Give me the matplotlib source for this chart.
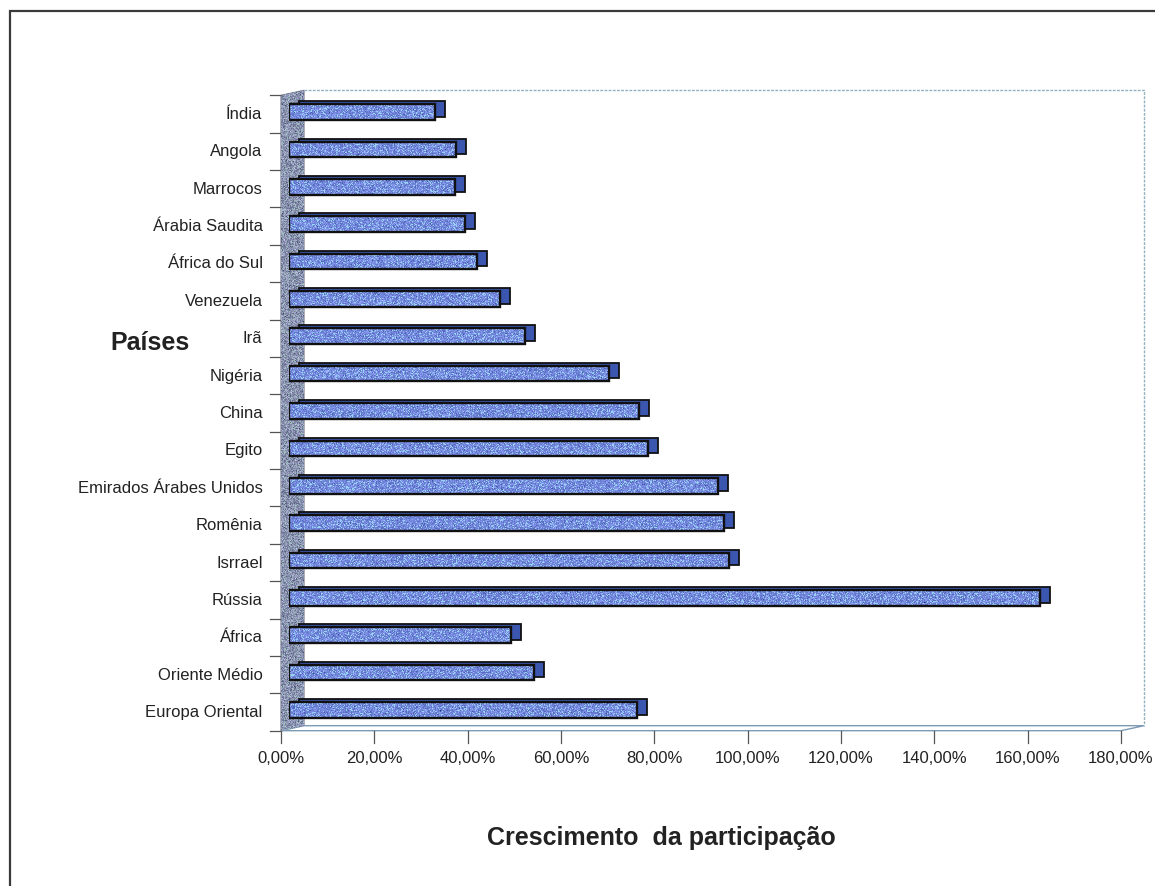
import numpy as np
import matplotlib
matplotlib.use("Agg")
import matplotlib.pyplot as plt
from matplotlib.patches import Rectangle, Polygon, PathPatch
from matplotlib.path import Path
from matplotlib.transforms import ScaledTranslation

plt.rcParams['font.family'] = ['Liberation Sans', 'DejaVu Sans']

# Crescimento da participação por país (fração, 1.0 = 100%)
paises = ["Índia", "Angola", "Marrocos", "Árabia Saudita", "África do Sul",
          "Venezuela", "Irã", "Nigéria", "China", "Egito",
          "Emirados Árabes Unidos", "Romênia", "Isrrael", "Rússia",
          "África", "Oriente Médio", "Europa Oriental"]
crescimento = [0.313, 0.358, 0.356, 0.377, 0.403,
               0.452, 0.506, 0.686, 0.750, 0.770,
               0.920, 0.932, 0.943, 1.610,
               0.476, 0.525, 0.746]
ticks_x = [0.0, 0.2, 0.4, 0.6, 0.8, 1.0, 1.2, 1.4, 1.6, 1.8]

W, H, DPI = 1155, 887, 100
fig = plt.figure(figsize=(W / DPI, H / DPI), dpi=DPI)

# plot area of the bar plane, in pixels
AX_L, AX_R, AX_T, AX_B = 289, 1129, 94.3, 729.7
AXW, AXH = AX_R - AX_L, AX_B - AX_T
ax = fig.add_axes([AX_L / W, 1 - AX_B / H, AXW / W, AXH / H])
ax.set_xlim(0, 1.8)
ax.set_ylim(-0.5, len(paises) - 0.5)
for s in ax.spines.values():
    s.set_visible(False)
ax.set_xticks([])

# pseudo-3D planes: front edge and back wall, offsets in pixels
FX, FY = -8 / AXW, -2 / AXH
BX, BY = 15 / AXW, 3 / AXH

rng = np.random.default_rng(3)


def grain(h, w, base, amp, speck, frac):
    img = base + rng.normal(0, 1, (h, w, 1)) * amp
    mask = rng.random((h, w)) < frac
    img[mask] = speck
    return np.clip(img, 0, 1)


# left wall
wall_pts = [(FX, FY), (FX, 1 + FY), (BX, 1 + BY), (BX, BY)]
wall = Polygon(wall_pts, closed=True, transform=ax.transAxes, fc='#8a90a8',
               ec='#6f7488', lw=0.8, clip_on=False, zorder=1)
ax.add_patch(wall)
wimg = ax.imshow(grain(640, 24, np.array([0.53, 0.56, 0.68]), 0.09,
                       np.array([0.62, 0.74, 0.74]), 0.12),
                 extent=[FX, BX, FY, 1 + BY], transform=ax.transAxes,
                 aspect='auto', interpolation='nearest', zorder=1.2)
wimg.set_clip_path(wall)
wimg.set_clip_box(fig.bbox)

# floor slab and back plane outline
floor = Polygon([(FX, FY), (1 + FX, FY), (1 + BX, BY), (BX, BY)], closed=True,
                transform=ax.transAxes, fc='white', ec='#7e9bb4', lw=1.0,
                clip_on=False, zorder=1)
ax.add_patch(floor)
ax.plot([BX, 1 + BX, 1 + BX], [1 + BY, 1 + BY, BY], transform=ax.transAxes,
        color='#8fb0bf', lw=1.0, ls=(0, (2, 1)), clip_on=False, zorder=1)

# category boundary ticks on the left
for k in range(len(paises) + 1):
    yb = (k / len(paises))
    ax.plot([FX - 11 / AXW, FX], [yb + FY, yb + FY], transform=ax.transAxes,
            color='#555555', lw=0.9, clip_on=False, zorder=1)

# value ticks and labels along the floor front edge
for v in ticks_x:
    xa = v / 1.8 + FX
    ax.plot([xa, xa], [FY, FY - 12 / AXH], transform=ax.transAxes,
            color='#555555', lw=0.9, clip_on=False, zorder=1)
    ax.text(xa, FY - 19 / AXH, f"{v * 100:.2f}%".replace('.', ','),
            transform=ax.transAxes, ha='center', va='top', fontsize=12,
            color='#222222')

# bars: dark back face shifted in depth, textured front face on top
ypos = np.arange(len(paises))[::-1]
bh = 0.42
depth = ScaledTranslation(10 / DPI, 3 / DPI, fig.dpi_scale_trans)
ax.barh(ypos, crescimento, height=bh, color='#3b56ae', edgecolor='#111111',
        lw=1.3, transform=ax.transData + depth, zorder=2)
fronts = ax.barh(ypos, crescimento, height=bh, color='#7288d6',
                 edgecolor='none', zorder=3)

paths = [r.get_path().transformed(r.get_patch_transform()) for r in fronts]
clip = PathPatch(Path.make_compound_path(*paths), transform=ax.transData,
                 fc='none', ec='none')
ax.add_patch(clip)
bimg = ax.imshow(grain(640, 840, np.array([0.45, 0.53, 0.86]), 0.07,
                       np.array([0.60, 0.83, 0.96]), 0.14),
                 extent=[0, 1.8, -0.5, len(paises) - 0.5], aspect='auto',
                 interpolation='nearest', zorder=3.5)
bimg.set_clip_path(clip)
ax.barh(ypos, crescimento, height=bh, fill=False, edgecolor='#111111',
        lw=1.7, zorder=4)

ax.set_xlim(0, 1.8)
ax.set_ylim(-0.5, len(paises) - 0.5)
ax.set_yticks(ypos)
ax.set_yticklabels(paises, fontsize=12, color='#222222')
ax.tick_params(axis='y', length=0, pad=19)

fig.text(150 / W, 1 - 343 / H, "Países", ha='center', va='center',
         fontsize=18, fontweight='bold', color='#222222')
fig.text(661 / W, 1 - 838 / H, "Crescimento  da participação", ha='center',
         va='center', fontsize=18, fontweight='bold', color='#222222')

# outer frame of the chart area, open past the right and bottom edges
fig.add_artist(Rectangle((10 / W, -0.05), 1.2, 1.05 - 12 / H,
                         transform=fig.transFigure, fill=False,
                         ec='#3a3a3a', lw=1.6))

fig.savefig("out.png", dpi=DPI)
